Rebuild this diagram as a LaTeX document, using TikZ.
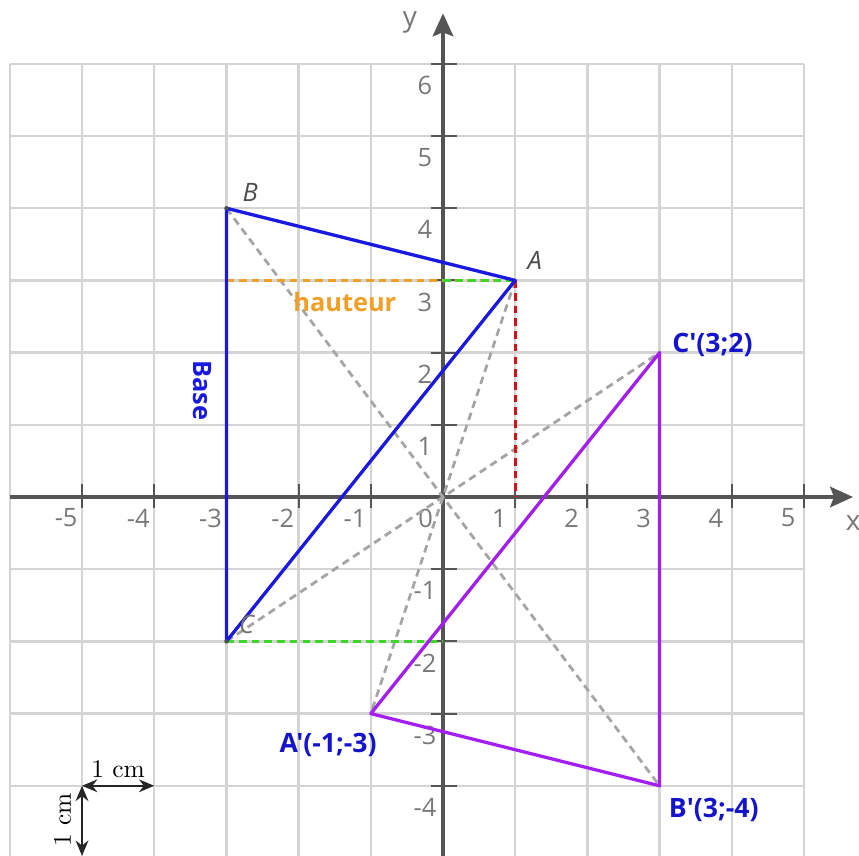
\documentclass[tikz,border=0pt]{standalone}
\usepackage{fontspec}
\newfontfamily\os{Open Sans}
\usetikzlibrary{arrows.meta}
\definecolor{gridc}{RGB}{212,212,212}
\definecolor{axisc}{RGB}{85,85,85}
\definecolor{numc}{RGB}{120,120,120}
\definecolor{triblue}{RGB}{25,25,225}
\definecolor{tripurple}{RGB}{165,30,240}
\definecolor{txtblue}{RGB}{20,20,205}
\definecolor{orangec}{RGB}{240,160,40}
\definecolor{greenc}{RGB}{60,215,40}
\definecolor{redc}{RGB}{210,20,20}
\definecolor{dashgray}{RGB}{165,165,165}
\begin{document}
\begin{tikzpicture}[
  gridline/.style={draw=gridc, line width=0.9pt},
  axisline/.style={draw=axisc, line width=1.7pt, -{Stealth[length=9pt,width=8pt,inset=1.5pt]}},
  tickline/.style={draw=axisc, line width=0.8pt},
  ticknum/.style={text=numc, font=\os\fontsize{10}{12}\selectfont, inner sep=0pt},
  side/.style={line width=1.3pt, line join=round},
  proj/.style={line width=1.1pt, dash pattern=on 3pt off 2pt},
  ptlabel/.style={text=black!70, font=\os\itshape\fontsize{10}{12}\selectfont, inner sep=0pt},
  imglabel/.style={text=txtblue, font=\os\bfseries\fontsize{10.5}{12}\selectfont, inner sep=0pt},
  scalearrow/.style={draw=black!85, line width=1pt, {Stealth[length=6pt,width=5pt]}-{Stealth[length=6pt,width=5pt]}}
]
\useasboundingbox (-6.136,-4.972) rectangle (5.762,6.884);
% grid
\draw[gridline] (-6,-5) grid (5,6);
% axes
\coordinate (xs) at (-6,0);
\coordinate (xe) at (5.68,0);
\coordinate (ys) at (0,-5);
\coordinate (ye) at (0,6.7);
\draw[axisline] (xs) -- (xe);
\draw[axisline] (ys) -- (ye);
\node[text=numc, font=\os\fontsize{11}{12}\selectfont, inner sep=0pt] (xlab) at (5.68,-0.36) {x};
\node[text=numc, font=\os\fontsize{11}{12}\selectfont] (ylab) at (-0.46,6.58) {y};
% ticks and numbers
\foreach \i in {-5,-4,-3,-2,-1,1,2,3,4,5} {
  \draw[tickline] (\i,0.18) -- (\i,-0.15);
  \node[ticknum] (nx\i) at (\i-0.22,-0.29) {\i};
}
\foreach \j in {-4,-3,-2,-1,1,2,3,4,5,6} {
  \draw[tickline] (-0.17,\j) -- (0.2,\j);
  \node[ticknum] (ny\j) at (-0.25,\j-0.3) {\j};
}
\node[ticknum] (n0) at (-0.24,-0.29) {0};
% points
\coordinate (A) at (1,3);
\coordinate (B) at (-3,4);
\coordinate (C) at (-3,-2);
\coordinate (A') at (-1,-3);
\coordinate (B') at (3,-4);
\coordinate (C') at (3,2);
\coordinate (HA) at (-3,3);
\coordinate (Ay) at (0,3);
\coordinate (Ax) at (1,0);
\coordinate (Cy) at (0,-2);
\coordinate (Cx) at (-3,0);
% symmetry lines
\draw[proj, draw=dashgray] (B) -- (B');
\draw[proj, draw=dashgray] (A) -- (A');
\draw[proj, draw=dashgray] (C) -- (C');
% height and projections
\draw[proj, draw=orangec, line width=1.3pt] (HA) -- (A);
\draw[proj, draw=greenc] (Ay) -- (A);
\draw[proj, draw=redc] (A) -- (Ax);
\draw[proj, draw=greenc] (C) -- (Cy);
\draw[proj, draw=redc] (C) -- (Cx);
% triangles
\draw[side, draw=triblue] (B) -- (A) -- (C) -- cycle;
\draw[side, draw=tripurple] (B') -- (A') -- (C') -- cycle;
\fill[black!70] (B) circle (0.03);
\fill[black!70] (C) circle (0.03);
% labels
\node[ptlabel] (lB) at (-2.67,4.22) {B};
\node[ptlabel] (lA) at (1.27,3.28) {A};
\node[ptlabel, text=black!55] (lC) at (-2.72,-1.76) {C};
\node[text=orangec, font=\os\bfseries\fontsize{10}{12}\selectfont, inner sep=0pt] (haut) at (-1.36,2.70) {hauteur};
\node[text=triblue, font=\os\bfseries\fontsize{10}{12}\selectfont, inner sep=0pt, rotate=-90] (base) at (-3.33,1.48) {Base};
\node[imglabel, anchor=west] (lC') at (3.17,2.1) {C'(3;2)};
\node[imglabel] (lA') at (-1.59,-3.43) {A'(-1;-3)};
\node[imglabel] (lB') at (3.75,-4.34) {B'(3;-4)};
% scale
\coordinate (s0) at (-5,-4);
\coordinate (s1) at (-4,-4);
\coordinate (s2) at (-5,-4.97);
\draw[scalearrow] (s0) -- (s1);
\draw[scalearrow] (s0) -- (s2);
\node[inner sep=0pt, font=\fontsize{10}{12}\selectfont] (cm1) at (-4.5,-3.77) {1 cm};
\node[inner sep=0pt, font=\fontsize{10}{12}\selectfont, rotate=90] (cm2) at (-5.27,-4.47) {1 cm};
\end{tikzpicture}
\end{document}
